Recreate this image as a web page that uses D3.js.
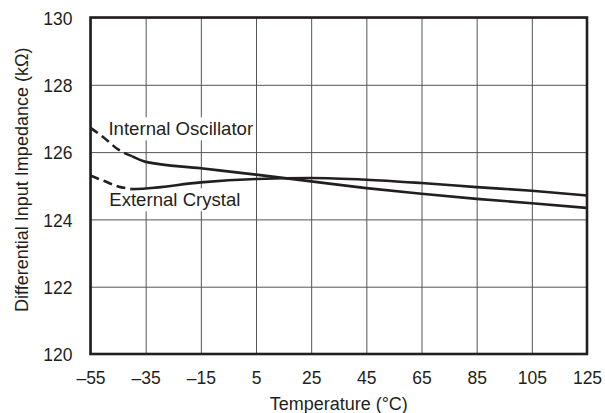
<!DOCTYPE html>
<html>
<head>
<meta charset="utf-8">
<style>
    html, body { margin: 0; padding: 0; background: #fff; }
    text { font-family: "Liberation Sans", Arial, Helvetica, sans-serif; fill: #231f20; }
</style>
<script src="https://d3js.org/d3.v7.min.js"></script>
</head>
<body>
<svg width="605" height="413"></svg>
<script>
    // values
    var temps = [-55, -50, -45, -40, -35, -15, 5, 25, 45, 65, 85, 105, 125];
    var internalOsc = [126.72, 126.42, 126.08, 125.88, 125.71, 125.52, 125.33, 125.13, 124.93, 124.76, 124.61, 124.48, 124.34];
    var externalCrystal = [125.30, 125.14, 124.98, 124.90, 124.92, 125.10, 125.20, 125.23, 125.18, 125.08, 124.96, 124.85, 124.71];
    var xTicks = [-55, -35, -15, 5, 25, 45, 65, 85, 105, 125];
    var yTicks = [120, 122, 124, 126, 128, 130];
    var dashedUntil = -40;

    var svg = d3.select("svg"),
        margin = {top: 17.5, right: 18, bottom: 59, left: 90.5},
        width = +svg.attr("width") - margin.left - margin.right,
        height = +svg.attr("height") - margin.top - margin.bottom,
        g = svg.append("g").attr("transform", "translate(" + margin.left + "," + margin.top + ")");

    var x = d3.scaleLinear().domain([-55, 125]).range([0, width]);
    var y = d3.scaleLinear().domain([120, 130]).range([height, 0]);

    // grid
    var aixB = g.append("g")
        .attr("transform", "translate(0," + height + ")")
        .call(d3.axisBottom(x).tickValues(xTicks).tickSize(-height).tickPadding(18)
            .tickFormat(function(d) { return d < 0 ? "\u2013" + Math.abs(d) : d; }));
    aixB.selectAll("line").style("stroke", "#555").style("stroke-width", 1);
    aixB.selectAll("text").style("font-size", "17.5px").attr("fill", "#231f20");

    var aixL = g.append("g")
        .call(d3.axisLeft(y).tickValues(yTicks).tickSize(-width).tickPadding(18));
    aixL.selectAll("line").style("stroke", "#555").style("stroke-width", 1);
    aixL.selectAll("text").style("font-size", "17.5px").attr("fill", "#231f20").attr("dy", "0.38em");

    g.selectAll(".domain").remove();

    // series labels with white knock-out behind them
    function label(txt, tx, ty) {
        var t = g.append("text")
            .attr("x", x(tx))
            .attr("y", y(ty))
            .style("font-size", "18.6px")
            .text(txt);
        var b = t.node().getBBox();
        g.insert("rect", function() { return t.node(); })
            .attr("x", b.x - 3)
            .attr("y", b.y - 1)
            .attr("width", b.width + 5)
            .attr("height", b.height + 2)
            .attr("fill", "#fff");
    }
    label("Internal Oscillator", -48.5, 126.5);
    label("External Crystal", -48.2, 124.39);

    // curves
    var line = d3.line()
        .x(function(d) { return x(d.t); })
        .y(function(d) { return y(d.v); })
        .curve(d3.curveMonotoneX);

    [internalOsc, externalCrystal].forEach(function(vals) {
        var data = temps.map(function(t, i) { return {t: t, v: vals[i]}; });
        g.append("path")
            .datum(data.filter(function(d) { return d.t <= dashedUntil; }))
            .attr("fill", "none")
            .attr("stroke", "#231f20")
            .attr("stroke-width", 2.6)
            .attr("stroke-dasharray", "9,5")
            .attr("d", line);
        g.append("path")
            .datum(data.filter(function(d) { return d.t >= dashedUntil; }))
            .attr("fill", "none")
            .attr("stroke", "#231f20")
            .attr("stroke-width", 2.6)
            .attr("d", line);
    });

    // frame
    g.append("rect")
        .attr("width", width)
        .attr("height", height)
        .attr("fill", "none")
        .attr("stroke", "#231f20")
        .attr("stroke-width", 2.6);

    // axis titles
    svg.append("text")
        .attr("x", margin.left + width / 2)
        .attr("y", 410)
        .attr("text-anchor", "middle")
        .style("font-size", "18px")
        .text("Temperature (\u00B0C)");

    svg.append("text")
        .attr("transform", "translate(28," + (margin.top + height / 2 - 6) + ") rotate(-90)")
        .attr("text-anchor", "middle")
        .style("font-size", "18px")
        .text("Differential Input Impedance (k\u03A9)");
</script>
</body>
</html>
